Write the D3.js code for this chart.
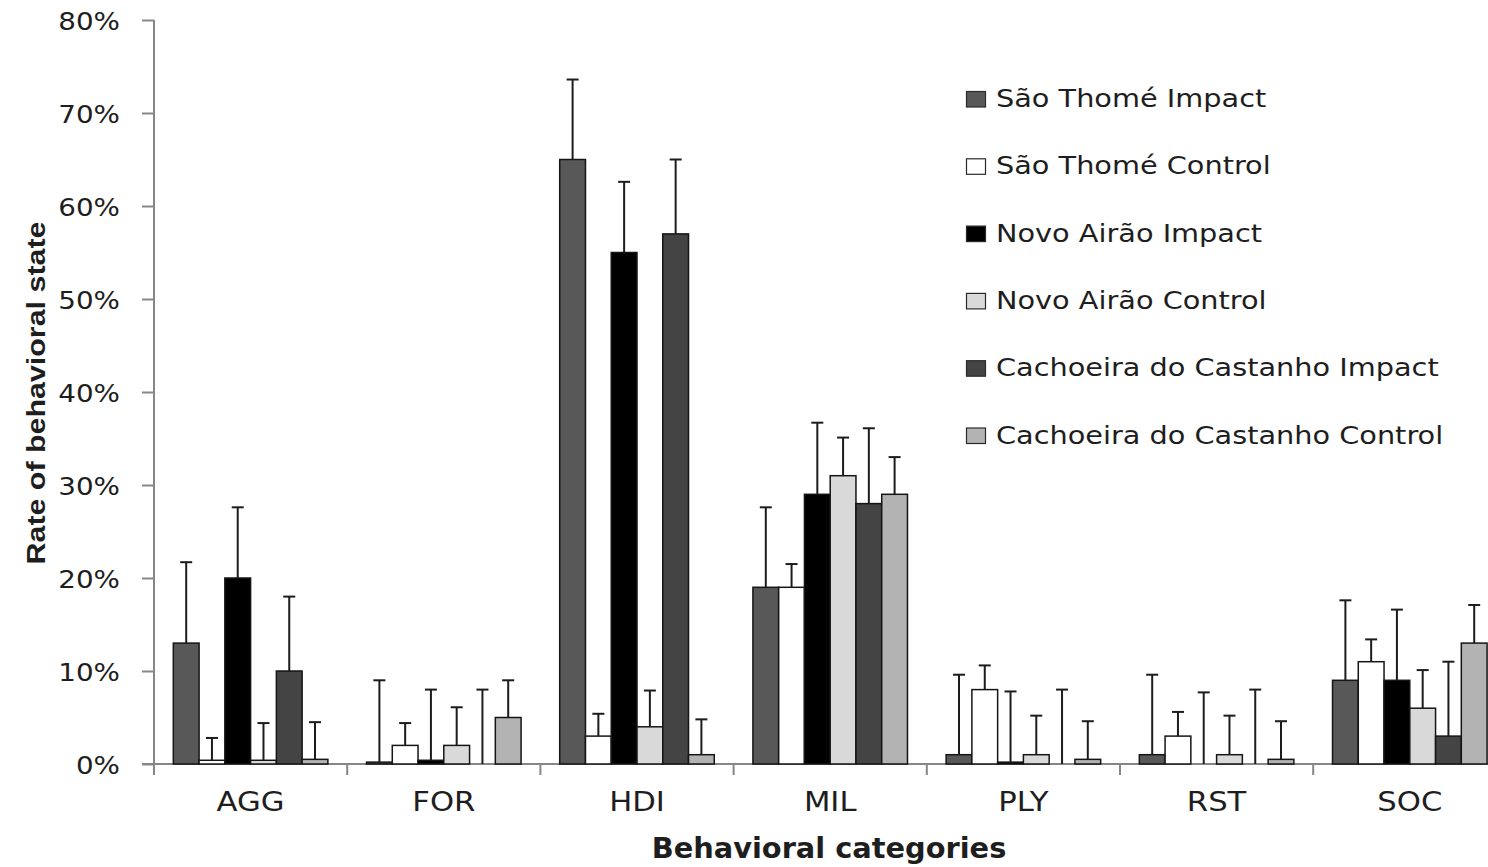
<!DOCTYPE html>
<html>
<head>
<meta charset="utf-8">
<script src="https://cdn.jsdelivr.net/npm/d3@7"></script>
<style>
  html, body { margin: 0; padding: 0; background: #ffffff; }
  svg { display: block; }
</style>
</head>
<body>
<svg id="chart" width="1488" height="867"></svg>
<script>
// Behavioral categories along the x axis
const categories = ["AGG", "FOR", "HDI", "MIL", "PLY", "RST", "SOC"];

// Series (site × treatment)
const seriesNames = [
  "São Thomé Impact",
  "São Thomé Control",
  "Novo Airão Impact",
  "Novo Airão Control",
  "Cachoeira do Castanho Impact",
  "Cachoeira do Castanho Control"
];

// Mean rate of each behavioral state (%), one array per series
const saoThomeImpact      = [13, 0.2, 65, 19, 1, 1, 9];
const saoThomeControl     = [0.4, 2, 3, 19, 8, 3, 11];
const novoAiraoImpact     = [20, 0.4, 55, 29, 0.2, 0, 9];
const novoAiraoControl    = [0.4, 2, 4, 31, 1, 1, 6];
const cachoeiraImpact     = [10, 0, 57, 28, 0, 0, 3];
const cachoeiraControl    = [0.5, 5, 1, 29, 0.5, 0.5, 13];

// Upper error (%), one array per series
const saoThomeImpactErr   = [8.7, 8.8, 8.6, 8.6, 8.6, 8.6, 8.6];
const saoThomeControlErr  = [2.4, 2.4, 2.4, 2.5, 2.6, 2.6, 2.4];
const novoAiraoImpactErr  = [7.6, 7.6, 7.6, 7.7, 7.6, 7.7, 7.6];
const novoAiraoControlErr = [4.0, 4.1, 3.9, 4.1, 4.2, 4.2, 4.1];
const cachoeiraImpactErr  = [8.0, 8.0, 8.0, 8.1, 8.0, 8.0, 8.0];
const cachoeiraControlErr = [4.0, 4.0, 3.8, 4.0, 4.1, 4.1, 4.1];

// Y axis tick values (%)
const yTicks = [0, 10, 20, 30, 40, 50, 60, 70, 80];

const seriesValues = [saoThomeImpact, saoThomeControl, novoAiraoImpact,
                      novoAiraoControl, cachoeiraImpact, cachoeiraControl];
const seriesErrors = [saoThomeImpactErr, saoThomeControlErr, novoAiraoImpactErr,
                      novoAiraoControlErr, cachoeiraImpactErr, cachoeiraControlErr];
const fills = ["#585858", "#ffffff", "#000000", "#d9d9d9", "#444444", "#b3b3b3"];

const svg = d3.select("#chart");
svg.append("rect").attr("width", 1488).attr("height", 867).attr("fill", "#fff");

// Plot frame: the category axis runs past the right edge of the canvas
const x0 = 154, y0 = 764, yTop = 20, catStep = 193.2;
const x = d3.scaleBand().domain(categories)
  .range([x0, x0 + catStep * categories.length]).paddingInner(0).paddingOuter(0);
const xs = d3.scaleBand().domain(d3.range(seriesNames.length))
  .range([0, x.bandwidth()]).paddingInner(0).paddingOuter(0.75);
const y = d3.scaleLinear().domain([0, 80]).range([y0, yTop]);

const axisColor = "#878787";
const textColor = "#1e1e1e";

// Text drawn with a horizontal stretch factor
function stretchText(parent, px, py, str, opts) {
  const g = parent.append("g")
    .attr("transform", `translate(${px},${py}) rotate(${opts.rotate || 0}) scale(${opts.sx || 1},1)`);
  return g.append("text")
    .attr("x", 0).attr("y", 0)
    .attr("text-anchor", opts.anchor || "start")
    .attr("font-family", opts.family || "DejaVu Sans")
    .attr("font-size", opts.size)
    .attr("font-weight", opts.weight || "normal")
    .attr("fill", textColor)
    .text(str);
}

// Y axis
const yAxis = d3.axisLeft(y).tickValues(yTicks).tickSize(12).tickFormat(() => "");
const gy = svg.append("g").attr("transform", `translate(${x0},0)`).call(yAxis);
gy.select(".domain").attr("d", `M0,${yTop}V${y0 + 11}`)
  .attr("stroke", axisColor).attr("stroke-width", 2);
gy.selectAll(".tick line").attr("stroke", axisColor).attr("stroke-width", 2);
yTicks.forEach(t => {
  stretchText(svg, 120, y(t) + 9.5, t + "%", { anchor: "end", size: 25, sx: 1.11 });
});

// X axis with ticks at category boundaries
const gx = svg.append("g");
gx.append("line").attr("x1", x0 - 12).attr("x2", x0 + catStep * categories.length)
  .attr("y1", y0).attr("y2", y0).attr("stroke", axisColor).attr("stroke-width", 2);
const boundaries = categories.map(c => x(c)).concat([x0 + catStep * categories.length]);
gx.selectAll("line.btick").data(boundaries.slice(1)).join("line")
  .attr("class", "btick")
  .attr("x1", d => d).attr("x2", d => d)
  .attr("y1", y0).attr("y2", y0 + 11)
  .attr("stroke", axisColor).attr("stroke-width", 2);
categories.forEach(c => {
  stretchText(svg, x(c) + x.bandwidth() / 2, 811, c, { anchor: "middle", size: 26, sx: 1.18 });
});

// Bars and error bars
const barLayer = svg.append("g");
const errLayer = svg.append("g");
categories.forEach((c, ci) => {
  seriesValues.forEach((vals, si) => {
    const v = vals[ci];
    const e = seriesErrors[si][ci];
    const bx = x(c) + xs(si);
    const bw = xs.bandwidth();
    if (v > 0) {
      barLayer.append("rect")
        .attr("x", bx).attr("y", y(v))
        .attr("width", bw).attr("height", y0 - y(v))
        .attr("fill", fills[si])
        .attr("stroke", "#151515").attr("stroke-width", 1.5);
    }
    const cx = bx + bw / 2;
    errLayer.append("line")
      .attr("x1", cx).attr("x2", cx).attr("y1", y(v)).attr("y2", y(v + e))
      .attr("stroke", "#1c1c1c").attr("stroke-width", 2);
    errLayer.append("line")
      .attr("x1", cx - 6).attr("x2", cx + 6).attr("y1", y(v + e)).attr("y2", y(v + e))
      .attr("stroke", "#1c1c1c").attr("stroke-width", 2);
  });
});

// Legend
const legend = svg.append("g");
seriesNames.forEach((name, i) => {
  const ly = 107 + i * 67.3;
  legend.append("rect")
    .attr("x", 966.5).attr("y", ly - 15.5).attr("width", 19).attr("height", 15.5)
    .attr("fill", fills[i]).attr("stroke", "#2a2a2a").attr("stroke-width", 1.2);
  stretchText(legend, 996, ly, name, { size: 25, sx: 1.15 });
});

// Axis titles
stretchText(svg, 829, 858, "Behavioral categories",
  { anchor: "middle", size: 28, weight: "bold", sx: 1.03 });
const yt = stretchText(svg, 45, 393, "Rate of behavioral state",
  { anchor: "middle", size: 25, weight: "bold", family: "Liberation Sans", rotate: -90 });
const natural = yt.node().getComputedTextLength();
d3.select(yt.node().parentNode)
  .attr("transform", `translate(45,393) rotate(-90) scale(${343 / natural},1)`);
</script>
</body>
</html>
